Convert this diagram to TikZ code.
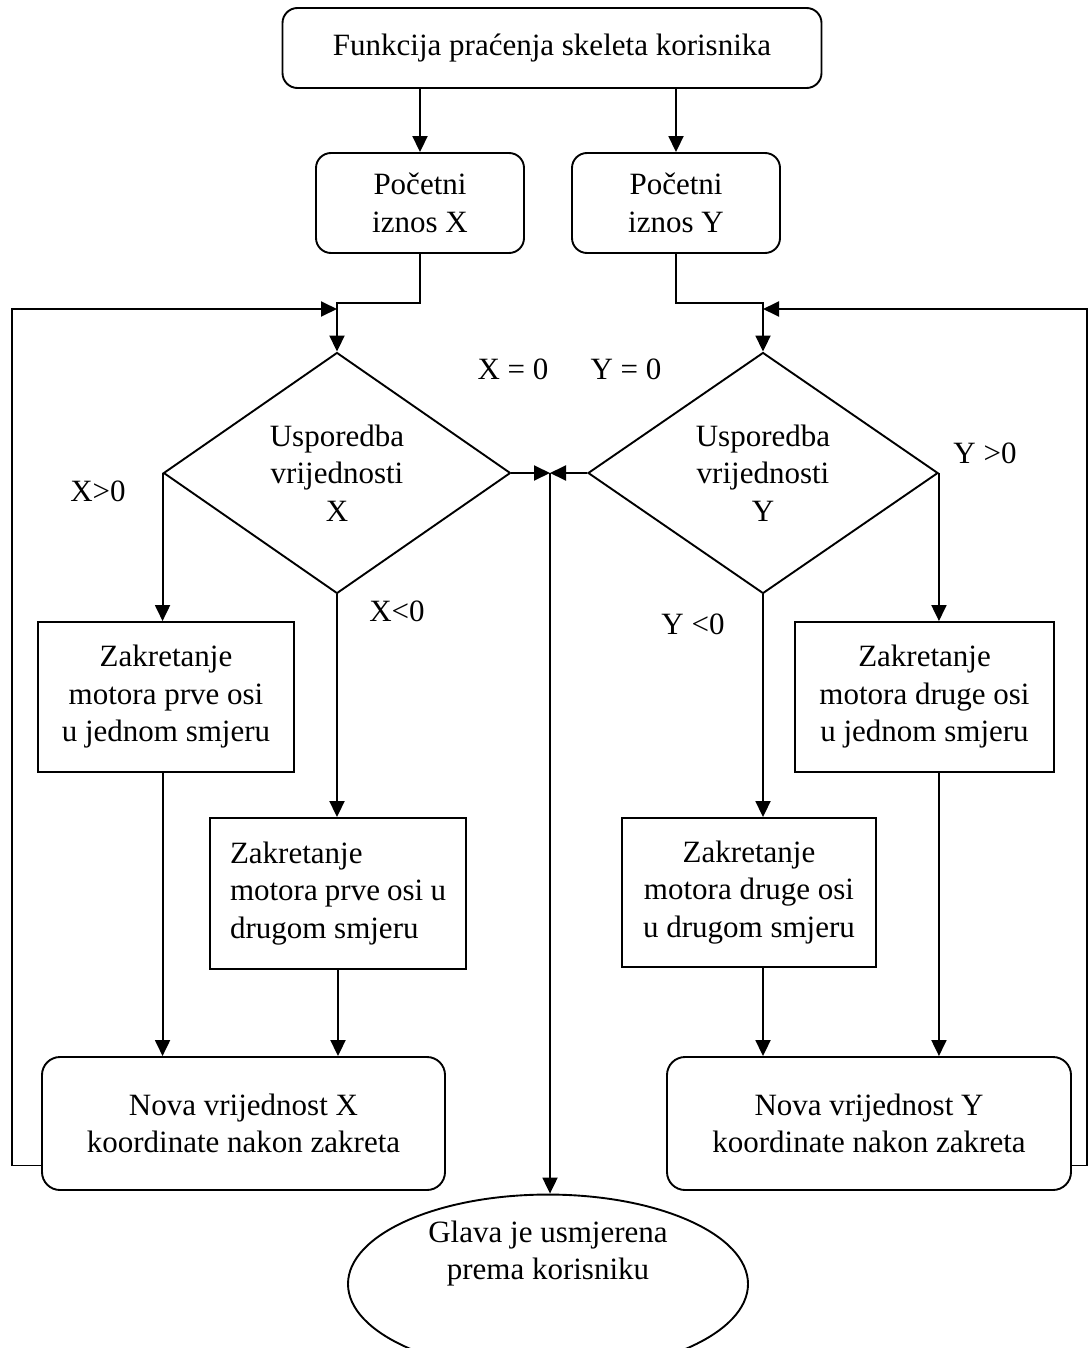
\documentclass[tikz,border=0pt]{standalone}
\usepackage{fontspec}
\setmainfont{Liberation Serif}
\usetikzlibrary{shapes.geometric,arrows.meta}
\begin{document}
\begin{tikzpicture}[x=1pt,y=1pt,
  every node/.style={font=\fontsize{31}{37.5}\selectfont, inner sep=0pt},
  ln/.style={line width=1.9pt},
  arr/.style={ln, -{Triangle[length=16pt,width=15pt]}},
  rbox/.style={draw, ln, rounded corners=15pt, align=center},
  sbox/.style={draw, ln, align=center},
  dia/.style={draw, ln, diamond, aspect=1.44, align=center},
  lbl/.style={anchor=center}
]
\useasboundingbox (0,0) rectangle (1089,-1348);
\clip (0,0) rectangle (1089,-1348);
% nodes
\node[rbox, minimum width=539pt, minimum height=80pt] (top) at (552,-48) {Funkcija praćenja skeleta korisnika};
\node[rbox, minimum width=208pt, minimum height=100pt] (px) at (420,-203) {Početni\\iznos X};
\node[rbox, minimum width=208pt, minimum height=100pt] (py) at (676,-203) {Početni\\iznos Y};
\node[dia, minimum width=347pt, minimum height=241pt] (dx) at (337,-473) {Usporedba\\vrijednosti\\X};
\node[dia, minimum width=350pt, minimum height=241pt] (dy) at (763,-473) {Usporedba\\vrijednosti\\Y};
\node[sbox, minimum width=256pt, minimum height=150pt] (bx1) at (166,-697) {Zakretanje\\motora prve osi\\u jednom smjeru};
\node[sbox, minimum width=256pt, minimum height=151pt, align=flush left, text width=216pt] (bx2) at (338,-893.5) {Zakretanje\\motora prve osi u\\drugom smjeru};
\node[sbox, minimum width=254pt, minimum height=149pt] (by2) at (749,-892.5) {Zakretanje\\motora druge osi\\u drugom smjeru};
\node[sbox, minimum width=259pt, minimum height=150pt] (by1) at (924.5,-697) {Zakretanje\\motora druge osi\\u jednom smjeru};
\node[rbox, minimum width=403pt, minimum height=133pt, rounded corners=18pt] (nx) at (243.5,-1123.5) {Nova vrijednost X\\koordinate nakon zakreta};
\node[rbox, minimum width=404pt, minimum height=133pt, rounded corners=18pt] (ny) at (869,-1123.5) {Nova vrijednost Y\\koordinate nakon zakreta};
\node[draw, ln, ellipse, minimum width=400pt, minimum height=160pt, align=center] (gl) at (548,-1284) {Glava je usmjerena\\prema korisniku\\[30pt]};
% labels
\node[lbl] (lx0) at (513,-369) {X = 0};
\node[lbl] (ly0) at (626,-369) {Y = 0};
\node[lbl] (lxp) at (98,-491) {X>0};
\node[lbl] (lxn) at (397,-611) {X<0};
\node[lbl] (lyn) at (693,-624) {Y <0};
\node[lbl] (lyp) at (985,-453) {Y >0};
% junctions
\coordinate (lj) at (337,-309);
\coordinate (rj) at (763,-309);
\coordinate (cj) at (550,-473);
% connectors
\draw[arr] (top.south -| px) -- (px.north);
\draw[arr] (top.south -| py) -- (py.north);
\draw[arr] (px.south) -- ++(0,-49) -| (dx.north);
\draw[arr] (py.south) -- ++(0,-49) -| (dy.north);
\draw[arr] ([yshift=-42pt]nx.west) -- (12,-1165.5) |- (lj);
\draw[arr] ([yshift=-42pt]ny.east) -- (1087,-1165.5) |- (rj);
\draw[arr] (dx.east) -- (cj);
\draw[arr] (dy.west) -- (cj);
\draw[arr] (cj) -- (cj |- gl.north);
\draw[arr] (dx.west) -- (dx.west |- bx1.north);
\draw[arr] (dx.south) -- (dx.south |- bx2.north);
\draw[arr] (dy.south) -- (dy.south |- by2.north);
\draw[arr] (dy.east) -- (dy.east |- by1.north);
\draw[arr] (bx1.south -| dx.west) -- (dx.west |- nx.north);
\draw[arr] (bx2.south) -- (bx2.south |- nx.north);
\draw[arr] (by2.south -| dy.south) -- (dy.south |- ny.north);
\draw[arr] (by1.south -| dy.east) -- (dy.east |- ny.north);
\end{tikzpicture}
\end{document}
